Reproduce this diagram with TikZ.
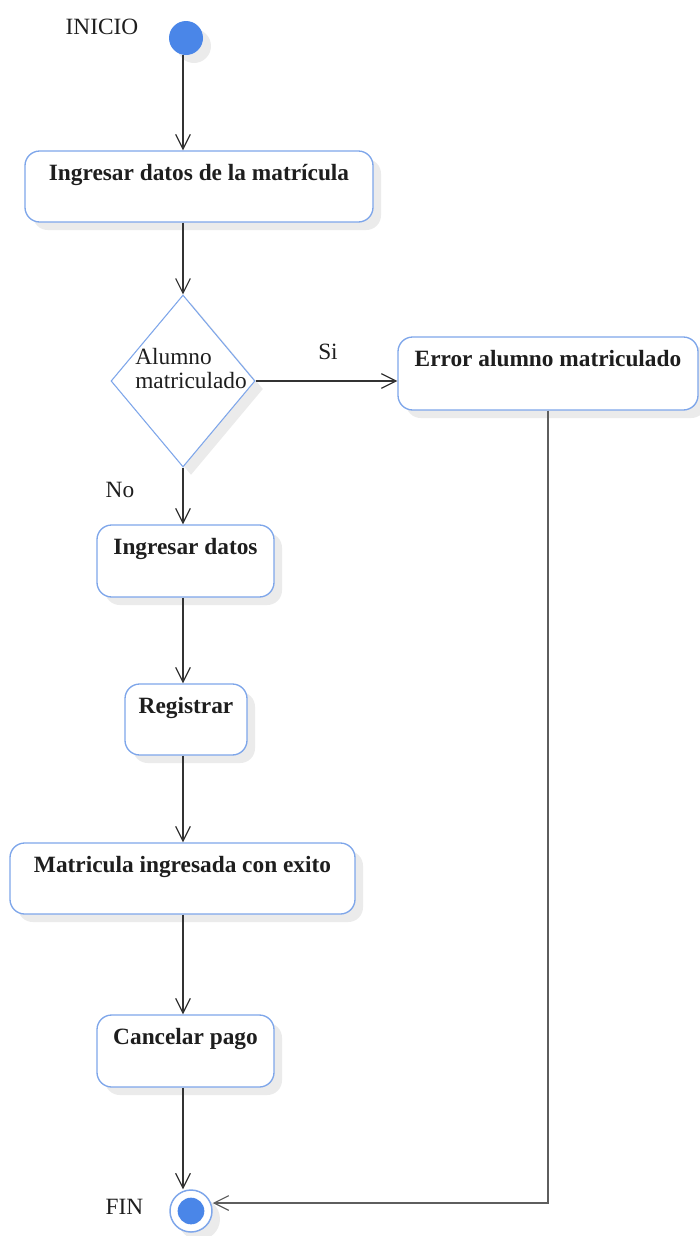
\documentclass[tikz,border=0pt]{standalone}
\usepackage{fontspec}
\setmainfont{Liberation Serif}
\usetikzlibrary{arrows.meta,shapes.geometric,shadows}

\definecolor{edgeblue}{HTML}{7EA6EA}
\definecolor{dotblue}{HTML}{4A86E8}
\definecolor{ink}{HTML}{1E1E1E}
\definecolor{wire}{HTML}{333333}
\definecolor{wiregray}{HTML}{5E5E5E}
\definecolor{shade}{HTML}{EBEBEB}

\tikzset{
  shadowed/.style={drop shadow={shadow xshift=6pt, shadow yshift=-6pt, fill=shade, opacity=1}},
  action/.style={draw=edgeblue, line width=1pt, fill=white, rounded corners=11pt,
    inner sep=0pt, text height=21.75pt, text=ink,
    font=\fontsize{17.5}{20}\selectfont\bfseries, shadowed},
  lbl/.style={inner sep=0pt, text=ink, font=\fontsize{17.5}{18}\selectfont},
  flow/.style={draw=wire, line width=0.9pt, -{Straight Barb[length=11pt, width=11pt]}},
}

\begin{document}
\begin{tikzpicture}[x=0.75pt, y=-0.75pt]
  \useasboundingbox (0,0) rectangle (700,1236);

  % vertical axis shared by the main flow
  \coordinate (spine) at (183,0);

  % start and end states
  \node[circle, fill=dotblue, minimum size=25.5pt, inner sep=0pt, shadowed] (start) at (186,38) {};
  \node[circle, draw=edgeblue, line width=1.1pt, fill=white, minimum size=31.5pt, inner sep=0pt, shadowed] (endn) at (191,1211) {};
  \node[circle, fill=dotblue, minimum size=20pt, inner sep=0pt] (endcore) at (endn) {};

  % activities
  \node[action, minimum width=261pt, text depth=31.5pt] (b1) at (199,186.5) {Ingresar datos de la matrícula};
  \node[action, minimum width=225pt, text depth=33pt] (err) at (548,373.5) {Error alumno matriculado};
  \node[action, minimum width=132.75pt, text depth=32.25pt] (ing) at (185.5,561) {Ingresar datos};
  \node[action, minimum width=91.5pt, text depth=31.5pt] (reg) at (186,719.5) {Registrar};
  \node[action, minimum width=258.75pt, text depth=31.5pt] (mat) at (182.5,878.5) {Matricula ingresada con exito};
  \node[action, minimum width=132.75pt, text depth=32.25pt] (can) at (185.5,1051) {Cancelar pago};

  % decision
  \node[diamond, draw=edgeblue, line width=0.8pt, fill=white, minimum width=108pt, minimum height=129pt, inner sep=0pt, shadowed] (dec) at (183,381) {};
  \node[lbl, align=left, anchor=north west] (dtxt) at (135,348) {Alumno\\matriculado};

  % labels
  \node[lbl] (inicio) at (102,27) {INICIO};
  \node[lbl] (fin) at (124.5,1207) {FIN};
  \node[lbl] (no) at (120,490) {No};
  \node[lbl] (si) at (328,352) {Si};

  % transitions
  \draw[flow] (spine |- start.south) -- (spine |- b1.north);
  \draw[flow] (spine |- b1.south) -- (dec.north);
  \draw[flow] (dec.east) -- (err.west |- dec.east);
  \draw[flow] (dec.south) -- (spine |- ing.north);
  \draw[flow] (spine |- ing.south) -- (spine |- reg.north);
  \draw[flow] (spine |- reg.south) -- (spine |- mat.north);
  \draw[flow] (spine |- mat.south) -- (spine |- can.north);
  \draw[flow] (spine |- can.south) -- (spine |- endn.north);

  \coordinate (turn) at (548,1203);
  \draw[flow, draw=wiregray] (err.south) -- (turn) -- (turn -| endn.east);
\end{tikzpicture}
\end{document}
